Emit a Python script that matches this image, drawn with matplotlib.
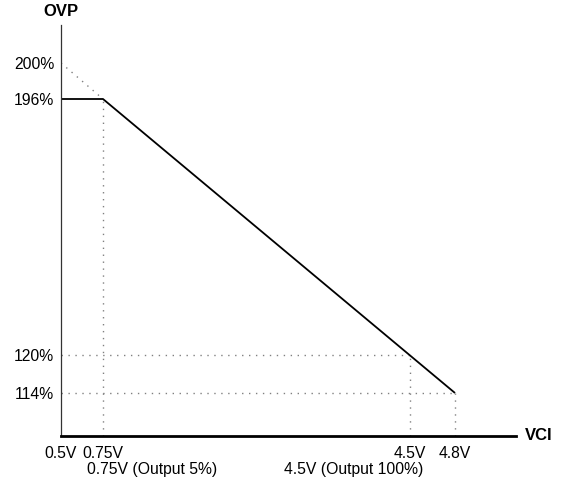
import numpy as np
import matplotlib.pyplot as plt

plt.rcParams['font.family'] = ['Liberation Sans', 'DejaVu Sans']

# VCI (V) and OVP (%) key points
vci = [0.5, 0.75, 4.5, 4.8]
ovp_line_v = [0.5, 0.75, 4.8]
ovp_line_p = [196, 196, 114]
ovp_ext_v = [0.5, 0.75]
ovp_ext_p = [200, 196]
ref_v = [0.75, 4.5, 4.8]
ref_p = [196, 120, 114]
y_ticks = [200, 196, 120, 114]
y_labels = ['200%', '196%', '120%', '114%']
x_labels = ['0.5V', '0.75V', '4.5V', '4.8V']
notes = [(0.75, '0.75V (Output 5%)', 'left'), (4.5, '4.5V (Output 100%)', 'right')]

# schematic (non-linear) axis spacing
xk_v = [0.5, 0.75, 4.5, 4.8, 5.2]
xk_p = [0, 42, 349, 394, 455]
yk_v = [100, 114, 120, 196, 200, 210]
yk_p = [0, 43, 81, 337, 373, 411]

def fx(v):
    return np.interp(v, xk_v, xk_p)

def ix(p):
    return np.interp(p, xk_p, xk_v)

def fy(v):
    return np.interp(v, yk_v, yk_p)

def iy(p):
    return np.interp(p, yk_p, yk_v)

fig = plt.figure(figsize=(5.61, 4.83), dpi=100)
ax = fig.add_axes([61 / 561, 47 / 483, 455 / 561, 411 / 483])
ax.set_xscale('function', functions=(fx, ix))
ax.set_yscale('function', functions=(fy, iy))
ax.set_xlim(0.5, 5.2)
ax.set_ylim(100, 210)

dot = dict(color='#808080', lw=1, ls=(0, (1, 4)))
ax.plot(ovp_ext_v, ovp_ext_p, **dot)
for v, p in zip(ref_v, ref_p):
    ax.plot([v, v], [100, p], **dot)
for v, p in zip(ref_v[1:], ref_p[1:]):
    ax.plot([0.5, v], [p, p], **dot)

ax.plot(ovp_line_v, ovp_line_p, color='black', lw=1.3, solid_capstyle='butt', clip_on=False)

for s in ['top', 'right']:
    ax.spines[s].set_visible(False)
ax.spines['left'].set_linewidth(0.9)
ax.spines['left'].set_color('#333333')
ax.spines['bottom'].set_linewidth(2)

fs = 11.3
ax.set_xticks(vci)
ax.set_xticklabels(x_labels, fontsize=fs)
ax.set_yticks(y_ticks)
ax.set_yticklabels(y_labels, fontsize=fs)
ax.tick_params(axis='x', length=0, pad=7)
ax.tick_params(axis='y', length=0, pad=5)
ax.minorticks_off()

for v, t, ha in notes:
    dx = -16 if ha == 'left' else 13
    ax.annotate(t, xy=(v, 100), xytext=(dx, -26), textcoords='offset pixels',
                ha=ha, va='top', fontsize=fs, annotation_clip=False)

ax.annotate('OVP', xy=(0, 1), xycoords='axes fraction', xytext=(0, 13),
            textcoords='offset pixels', ha='center', va='center',
            fontsize=12, fontweight='bold')
ax.annotate('VCI', xy=(1, 0), xycoords='axes fraction', xytext=(9, 0),
            textcoords='offset pixels', ha='left', va='center',
            fontsize=12, fontweight='bold')

fig.savefig('out.png', dpi=100)
